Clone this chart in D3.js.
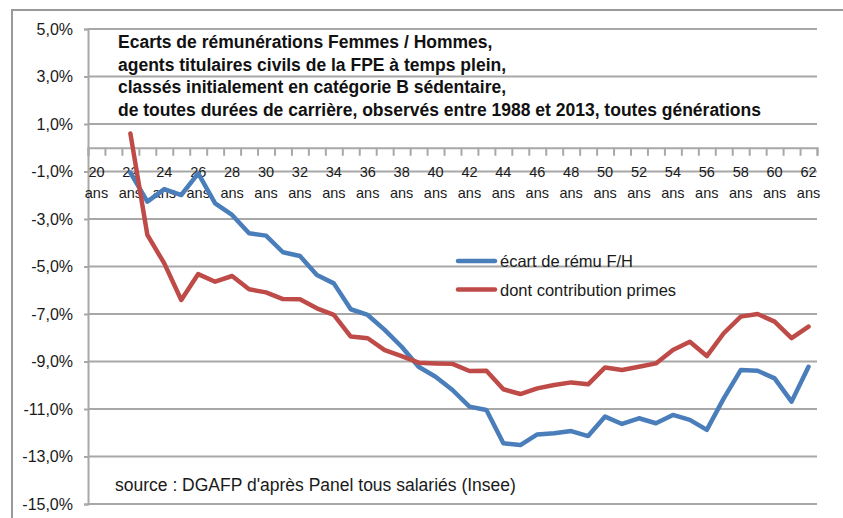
<!DOCTYPE html>
<html>
<head>
<meta charset="utf-8">
<script src="https://cdn.jsdelivr.net/npm/d3@7"></script>
<style>
  body { margin: 0; background: #fff; }
  svg { display: block; }
  text { font-family: "Liberation Sans", Arial, sans-serif; fill: #1a1a1a; }
</style>
</head>
<body>
<svg id="chart" width="843" height="518"></svg>
<script>
'use strict'

// ages (categories)
const ages = [20, 21, 22, 23, 24, 25, 26, 27, 28, 29, 30, 31, 32, 33, 34, 35, 36, 37, 38, 39, 40,
    41, 42, 43, 44, 45, 46, 47, 48, 49, 50, 51, 52, 53, 54, 55, 56, 57, 58, 59, 60, 61, 62];

// écart de rému F/H (%)
const ecart = [null, null, -1.05, -2.27, -1.74, -1.99, -1.08, -2.34, -2.83, -3.6, -3.7, -4.4, -4.56,
    -5.36, -5.71, -6.8, -7.04, -7.67, -8.38, -9.22, -9.64, -10.2, -10.9, -11.04, -12.44, -12.52,
    -12.07, -12.02, -11.93, -12.14, -11.32, -11.63, -11.39, -11.6, -11.25, -11.46, -11.88, -10.55,
    -9.36, -9.39, -9.71, -10.69, -9.22];

// dont contribution primes (%)
const primes = [null, null, 0.6, -3.67, -4.87, -6.41, -5.32, -5.64, -5.4, -5.96, -6.09, -6.37, -6.38,
    -6.76, -7.04, -7.95, -8.02, -8.52, -8.77, -9.05, -9.08, -9.1, -9.4, -9.39, -10.17, -10.37,
    -10.13, -9.99, -9.88, -9.96, -9.25, -9.36, -9.22, -9.08, -8.52, -8.17, -8.77, -7.81, -7.11,
    -7.0, -7.32, -8.02, -7.53];

const yTicks = [-15, -13, -11, -9, -7, -5, -3, -1, 1, 3, 5];
const xLabelAges = [20, 22, 24, 26, 28, 30, 32, 34, 36, 38, 40, 42, 44, 46, 48, 50, 52, 54, 56, 58, 60, 62];

const seriesNames = ["écart de rému F/H", "dont contribution primes"];
const titleLines = [
    "Ecarts de rémunérations Femmes / Hommes,",
    "agents titulaires civils de la FPE à temps plein,",
    "classés initialement en catégorie B sédentaire,",
    "de toutes durées de carrière, observés entre 1988 et 2013,  toutes générations"
];
const sourceText = "source : DGAFP d'après Panel tous salariés (Insee)";

const svg = d3.select('#chart');
const plotLeft = 88, plotRight = 817, plotTop = 29, plotBottom = 504;
const gridColor = "#a8a8a8";
const blue = "#4a7ebb", red = "#be4b48";

// outer frame
svg.append("rect")
    .attr("x", 12).attr("y", 10)
    .attr("width", 860).attr("height", 540)
    .style("fill", "none").style("stroke", "#9a9a9a").style("stroke-width", 2);

let scaleY = d3.scaleLinear().domain([-15, 5]).range([plotBottom, plotTop]);
let scaleX = d3.scaleBand().domain(ages).range([plotLeft, plotRight]);
let scaleTick = d3.scaleLinear().domain([0, ages.length]).range([plotLeft, plotRight]);
const cx = a => scaleX(a) + scaleX.bandwidth() / 2;

// grid lines
svg.append("g").selectAll("line")
    .data(yTicks)
    .join("line")
    .attr("x1", plotLeft).attr("x2", plotRight)
    .attr("y1", d => scaleY(d)).attr("y2", d => scaleY(d))
    .style("stroke", gridColor).style("stroke-width", 2);

// y axis
let axisY = d3.axisLeft(scaleY)
    .tickValues(yTicks)
    .tickSize(4)
    .tickPadding(11)
    .tickFormat(d => d.toFixed(1).replace('.', ',') + '%');
let gy = svg.append("g")
    .attr("transform", `translate(${plotLeft}, 0)`)
    .call(axisY);
gy.select(".domain").style("stroke", gridColor).style("stroke-width", 2);
gy.selectAll(".tick line").style("stroke", gridColor).style("stroke-width", 2);
gy.selectAll("text").style("font-size", "16px").style("fill", "#1a1a1a");

// x axis at 0 %: tick marks between categories
let axisTicks = d3.axisBottom(scaleTick)
    .tickValues(d3.range(ages.length + 1))
    .tickSize(8)
    .tickFormat("");
let gt = svg.append("g")
    .attr("transform", `translate(0, ${scaleY(0)})`)
    .call(axisTicks);
gt.select(".domain").style("stroke", gridColor).style("stroke-width", 2);
gt.selectAll(".tick line").style("stroke", gridColor).style("stroke-width", 2);

// x labels, two lines
let axisX = d3.axisBottom(scaleX)
    .tickValues(xLabelAges)
    .tickSize(0)
    .tickPadding(0);
let gx = svg.append("g")
    .attr("transform", `translate(0, ${scaleY(0)})`)
    .call(axisX);
gx.select(".domain").remove();
gx.selectAll(".tick text").each(function(d) {
    const t = d3.select(this).text(null).attr("y", 0).attr("dy", null)
        .style("font-size", "14.5px").style("fill", "#1a1a1a");
    t.append("tspan").attr("x", 0).attr("y", 29).text(d);
    t.append("tspan").attr("x", 0).attr("y", 50).text("ans");
});

// lines
let lineF = d3.line()
    .defined(d => d.v !== null)
    .x(d => cx(d.a))
    .y(d => scaleY(d.v));

const series = [
    { name: seriesNames[0], color: blue, values: ecart },
    { name: seriesNames[1], color: red, values: primes }
];

series.forEach(s => {
    svg.append("path")
        .datum(ages.map((a, i) => ({ a: a, v: s.values[i] })))
        .attr("d", lineF)
        .style("fill", "none")
        .style("stroke", s.color)
        .style("stroke-width", 4.5)
        .style("stroke-linejoin", "round")
        .style("stroke-linecap", "round");
});

// legend
const legend = svg.append("g").attr("transform", "translate(458, 261)");
series.forEach((s, i) => {
    const row = legend.append("g").attr("transform", `translate(0, ${i * 28.5})`);
    row.append("line")
        .attr("x1", 0).attr("x2", 37)
        .style("stroke", s.color).style("stroke-width", 4.5).style("stroke-linecap", "round");
    row.append("text")
        .attr("x", 42).attr("y", 6)
        .style("font-size", "16.5px")
        .text(s.name);
});

// title
svg.append("g").selectAll("text")
    .data(titleLines)
    .join("text")
    .attr("x", 118)
    .attr("y", (d, i) => 48 + i * 22.7)
    .style("font-size", "17.5px")
    .style("font-weight", "bold")
    .style("fill", "#111")
    .text(d => d);

// source
svg.append("text")
    .attr("x", 115).attr("y", 491)
    .style("font-size", "17.5px")
    .text(sourceText);
</script>
</body>
</html>
